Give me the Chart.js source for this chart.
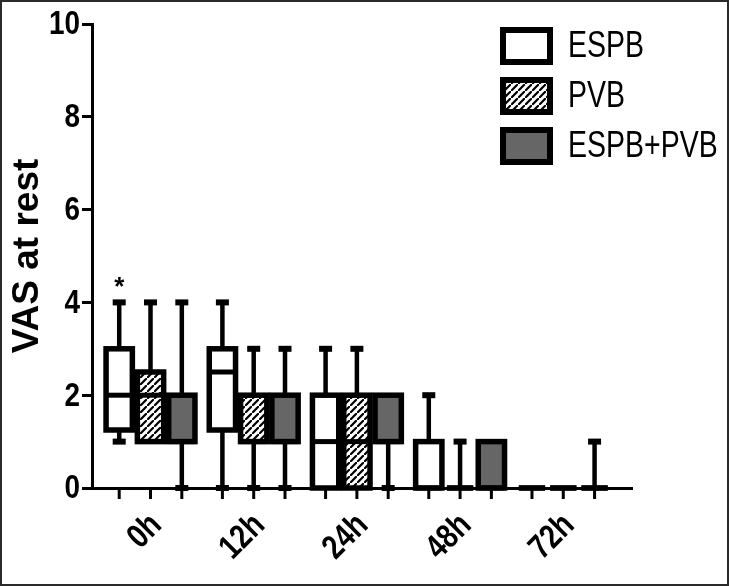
<!DOCTYPE html>
<html>
<head>
<meta charset="utf-8">
<script src="https://cdn.jsdelivr.net/npm/chart.js@4/dist/chart.umd.min.js"></script>
<style>
  html, body { margin: 0; padding: 0; background: #fff; }
  #wrap { width: 729px; height: 586px; }
</style>
</head>
<body>
<div id="wrap"><canvas id="c" width="729" height="586"></canvas></div>
<script>
// ---------------- data ----------------
const categories = ['0h', '12h', '24h', '48h', '72h'];
const seriesNames = ['ESPB', 'PVB', 'ESPB+PVB'];

const espbMin = [1, 0, 0, 0, 0];
const espbQ1  = [1.25, 1.25, 0, 0, 0];
const espbMed = [2, 2.5, 1, 0, 0];
const espbQ3  = [3, 3, 2, 1, 0];
const espbMax = [4, 4, 3, 2, 0];

const pvbMin = [1, 0, 0, 0, 0];
const pvbQ1  = [1, 1, 0, 0, 0];
const pvbMed = [2, 1, 1, 0, 0];
const pvbQ3  = [2.5, 2, 2, 0, 0];
const pvbMax = [4, 3, 3, 1, 0];

const comboMin = [0, 0, 0, 0, 0];
const comboQ1  = [1, 1, 1, 0, 0];
const comboMed = [1, 1, 1, 0, 0];
const comboQ3  = [2, 2, 2, 1, 0];
const comboMax = [4, 3, 2, 1, 1];

const espbMarks  = ['*', '', '', '', ''];
const pvbMarks   = ['', '', '', '', ''];
const comboMarks = ['', '', '', '', ''];

const yTickValues = [0, 2, 4, 6, 8, 10];
const yTitle = 'VAS at rest';

// ---------------- helpers ----------------
const FONT = '"Liberation Sans", Arial, sans-serif';
const SQUEEZE = 0.82; // condensed look of the original lettering

function makeHatch() {
  const s = 7;
  const c = document.createElement('canvas');
  c.width = s; c.height = s;
  const g = c.getContext('2d');
  g.fillStyle = '#fff'; g.fillRect(0, 0, s, s);
  g.strokeStyle = '#000'; g.lineWidth = 2.2;
  g.beginPath();
  g.moveTo(-1, s + 1); g.lineTo(s + 1, -1);
  g.moveTo(-3, 1); g.lineTo(1, -3);
  g.moveTo(s - 1, s + 3); g.lineTo(s + 3, s - 1);
  g.stroke();
  return g.createPattern(c, 'repeat');
}
const hatch = makeHatch();
const fills = ['#ffffff', hatch, '#666666'];

const stats = [
  { min: espbMin, q1: espbQ1, med: espbMed, q3: espbQ3, max: espbMax, marks: espbMarks },
  { min: pvbMin, q1: pvbQ1, med: pvbMed, q3: pvbQ3, max: pvbMax, marks: pvbMarks },
  { min: comboMin, q1: comboQ1, med: comboMed, q3: comboQ3, max: comboMax, marks: comboMarks }
];

const datasets = stats.map((s, d) => ({
  label: seriesNames[d],
  data: categories.map((c, i) => ({ x: i, y: [s.q1[i], s.q3[i]] })),
  backgroundColor: fills[d],
  borderWidth: 0,
  categoryPercentage: 0.91,
  barPercentage: 0.84
}));

function squeezedText(ctx, text, x, y, font, align, baseline, rot, sq) {
  ctx.save();
  ctx.translate(x, y);
  if (rot) ctx.rotate(rot);
  ctx.scale(sq || SQUEEZE, 1);
  ctx.font = font;
  ctx.textAlign = align;
  ctx.textBaseline = baseline;
  ctx.fillStyle = '#000';
  ctx.fillText(text, 0, 0);
  ctx.restore();
}

// ---------------- plugins ----------------
const frame = {
  id: 'frame',
  afterDraw(chart) {
    const ctx = chart.ctx;
    ctx.save();
    ctx.strokeStyle = '#2a2a2a';
    ctx.lineWidth = 2;
    ctx.strokeRect(1, 1, chart.width - 2, chart.height - 2);
    ctx.restore();
  }
};

// draws the tick labels of both axes with the condensed lettering
const axisLabels = {
  id: 'axisLabels',
  afterDraw(chart) {
    const ctx = chart.ctx;
    const xs = chart.scales.x, ys = chart.scales.y;
    const area = chart.chartArea;
    ys.ticks.forEach((t) => {
      squeezedText(ctx, String(t.value), area.left - 12, ys.getPixelForValue(t.value) + 1,
        'bold 34px ' + FONT, 'right', 'middle', 0);
    });
    xs.ticks.forEach((t) => {
      const lbl = categories[t.value];
      if (lbl === undefined) return;
      squeezedText(ctx, lbl, xs.getPixelForValue(t.value) + 6, area.bottom + 32,
        'bold 34px ' + FONT, 'right', 'middle', -Math.PI / 4);
    });
  }
};

const boxParts = {
  id: 'boxParts',
  afterDatasetsDraw(chart) {
    const ctx = chart.ctx;
    const ys = chart.scales.y;
    const area = chart.chartArea;
    ctx.save();
    ctx.strokeStyle = '#000';
    ctx.fillStyle = '#000';
    ctx.lineCap = 'butt';
    const line = (x1, y1, x2, y2, lw) => {
      ctx.lineWidth = lw;
      ctx.beginPath(); ctx.moveTo(x1, y1); ctx.lineTo(x2, y2); ctx.stroke();
    };
    stats.forEach((s, d) => {
      const meta = chart.getDatasetMeta(d);
      meta.data.forEach((bar, i) => {
        const { x, width } = bar.getProps(['x', 'width'], true);
        const half = width / 2;
        const pMin = ys.getPixelForValue(s.min[i]);
        const pQ1 = ys.getPixelForValue(s.q1[i]);
        const pMed = ys.getPixelForValue(s.med[i]);
        const pQ3 = ys.getPixelForValue(s.q3[i]);
        const pMax = ys.getPixelForValue(s.max[i]);
        const capW = 13, capH = 6;
        if (s.max[i] > s.q3[i]) {
          line(x, pQ3, x, pMax, 4.5);
          ctx.fillRect(x - capW / 2, pMax - capH / 2, capW, capH);
        }
        if (s.min[i] < s.q1[i]) {
          line(x, pQ1, x, pMin, 4.5);
          ctx.fillRect(x - capW / 2, pMin - capH / 2, capW, capH);
        }
        ctx.lineWidth = 5.5;
        ctx.strokeRect(x - half, pQ3, width, pQ1 - pQ3);
        line(x - half, pMed, x + half, pMed, 5);
        if (s.marks[i]) {
          ctx.font = 'bold 26px ' + FONT;
          ctx.textAlign = 'center';
          ctx.textBaseline = 'middle';
          ctx.fillText(s.marks[i], x, pMax - 15);
        }
        // x tick mark below the axis at each box
        line(x, area.bottom, x, area.bottom + 11, 3);
      });
    });
    ctx.restore();
  }
};

const legendBoxes = {
  id: 'legendBoxes',
  afterDraw(chart) {
    const ctx = chart.ctx;
    const bx = 503, bw = 47, bh = 32, top = 30, step = 50;
    ctx.save();
    seriesNames.forEach((name, d) => {
      const by = top + d * step;
      ctx.fillStyle = fills[d];
      ctx.fillRect(bx, by, bw, bh);
      ctx.strokeStyle = '#000';
      ctx.lineWidth = 6;
      ctx.strokeRect(bx, by, bw, bh);
      squeezedText(ctx, name, 568, by + bh / 2 + 1, '37px ' + FONT, 'left', 'middle', 0, 0.77);
    });
    ctx.restore();
  }
};

// ---------------- chart ----------------
new Chart(document.getElementById('c'), {
  type: 'bar',
  data: { datasets },
  plugins: [boxParts, legendBoxes, axisLabels, frame],
  options: {
    responsive: false,
    animation: false,
    devicePixelRatio: 1,
    layout: { padding: { top: 24, right: 97, left: 0, bottom: 0 } },
    plugins: { legend: { display: false }, tooltip: { enabled: false } },
    scales: {
      x: {
        type: 'linear',
        min: -0.567,
        max: 4.666,
        offset: false,
        afterBuildTicks: (s) => { s.ticks = categories.map((c, i) => ({ value: i })); },
        afterFit: (s) => { s.height = 98; },
        grid: { display: true, drawOnChartArea: false, drawTicks: true, tickLength: 10, color: 'rgba(0,0,0,0)', offset: false },
        border: { display: true, color: '#000', width: 3 },
        ticks: {
          autoSkip: false,
          maxRotation: 45,
          minRotation: 45,
          padding: 6,
          color: 'rgba(0,0,0,0)',
          font: { family: FONT, size: 25, weight: 'bold' },
          callback: (v) => categories[v] !== undefined ? categories[v] : ''
        }
      },
      y: {
        min: 0,
        max: 10,
        afterBuildTicks: (s) => { s.ticks = yTickValues.map(v => ({ value: v })); },
        afterFit: (s) => { s.width = 92; },
        grid: { drawOnChartArea: false, drawTicks: true, tickLength: 10, color: '#000', lineWidth: 3 },
        border: { display: true, color: '#000', width: 3 },
        ticks: {
          padding: 3,
          color: 'rgba(0,0,0,0)',
          font: { family: FONT, size: 28, weight: 'bold' }
        },
        title: {
          display: true,
          text: yTitle,
          color: '#000',
          padding: { top: 6, bottom: 0 },
          font: { family: FONT, size: 37, weight: 'bold' }
        }
      }
    }
  }
});
</script>
</body>
</html>
